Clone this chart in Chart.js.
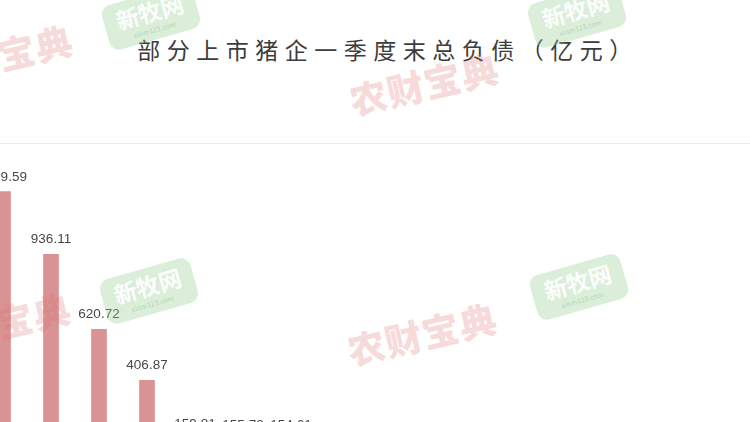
<!DOCTYPE html>
<html>
<head>
<meta charset="utf-8">
<script src="https://cdn.jsdelivr.net/npm/chart.js@4.4.0/dist/chart.umd.min.js"></script>
<style>
	html, body { margin: 0; padding: 0; background: #fff; overflow: hidden; }
	#pagina { position: relative; width: 750px; height: 422px; overflow: hidden; background: #fff; }
	#titulo {
		position: absolute; left: 0; top: 33px; width: 776px; text-align: center;
		font-family: "Noto Sans CJK SC", sans-serif; font-size: 23px; letter-spacing: 6.5px;
		color: #3c3c3c; line-height: 32px;
	}
	#linha { position: absolute; left: 0; top: 143px; width: 750px; height: 1px; background: #ebebeb; }
	#graficoDividas { position: absolute; left: -21px; top: 144px; }
	.marca { position: absolute; pointer-events: none; font-family: "Noto Sans CJK SC", sans-serif; }
	.marca-verde {
		width: 94px; height: 46px; border-radius: 10px; background: rgba(150, 205, 150, 0.35);
		transform: rotate(-16deg); color: rgba(255, 255, 255, 0.95); text-align: center;
	}
	.marca-verde b { display: block; font-size: 23px; line-height: 29px; font-weight: 700; padding-top: 3px; }
	.marca-verde i { display: block; font-size: 7px; line-height: 8px; font-style: normal; color: rgba(150, 200, 150, 0.6); }
	.marca-vermelha {
		font-size: 37px; font-weight: 900; color: rgba(225, 110, 110, 0.25); transform: rotate(-13deg);
		letter-spacing: 1px; white-space: nowrap;
	}
</style>
</head>
<body>
<div id="pagina">
	<div id="titulo">部分上市猪企一季度末总负债（亿元）</div>
	<div id="linha"></div>
	<canvas id="graficoDividas" width="336" height="333"></canvas>

	<div class="marca marca-verde" style="left:104px; top:-6px;"><b>新牧网</b><i>xinm123.com</i></div>
	<div class="marca marca-verde" style="left:530px; top:-8px;"><b>新牧网</b><i>xinm123.com</i></div>
	<div class="marca marca-verde" style="left:102px; top:268px;"><b>新牧网</b><i>xinm123.com</i></div>
	<div class="marca marca-verde" style="left:532px; top:264px;"><b>新牧网</b><i>xinm123.com</i></div>
	<div class="marca marca-vermelha" style="left:-78px; top:28px;">农财宝典</div>
	<div class="marca marca-vermelha" style="left:348px; top:56px;">农财宝典</div>
	<div class="marca marca-vermelha" style="left:-80px; top:296px;">农财宝典</div>
	<div class="marca marca-vermelha" style="left:346px; top:306px;">农财宝典</div>
</div>

<script>
// empresas (o eixo x nao aparece no recorte)
var empresas = ['公司1', '公司2', '公司3', '公司4', '公司5', '公司6', '公司7'];
// total de passivos no fim do 1o trimestre, em 亿元
var totaisDividas = [1199.59, 936.11, 620.72, 406.87, 159.81, 155.73, 154.61];

var rotulosBarras = {
	id: 'rotulosBarras',
	afterDatasetsDraw: function(chart) {
		var ctx = chart.ctx;
		var meta = chart.getDatasetMeta(0);
		ctx.save();
		ctx.font = '13.5px "Liberation Sans", sans-serif';
		ctx.fillStyle = '#474747';
		ctx.textAlign = 'center';
		ctx.textBaseline = 'bottom';
		meta.data.forEach(function(barra, i) {
			ctx.fillText(totaisDividas[i].toFixed(2), barra.x, barra.y - 8);
		});
		ctx.restore();
	}
};

var graficoDividas = new Chart(document.getElementById('graficoDividas').getContext('2d'), {
	type: 'bar',
	data: {
		labels: empresas,
		datasets: [{
			label: '总负债',
			backgroundColor: '#d99393',
			borderWidth: 0,
			barThickness: 15,
			data: totaisDividas
		}]
	},
	options: {
		responsive: false,
		animation: false,
		layout: { padding: 0 },
		plugins: {
			legend: { display: false },
			tooltip: { enabled: false }
		},
		scales: {
			x: { display: false },
			y: { display: false, min: 0, max: 1400 }
		}
	},
	plugins: [rotulosBarras]
});
</script>
</body>
</html>
